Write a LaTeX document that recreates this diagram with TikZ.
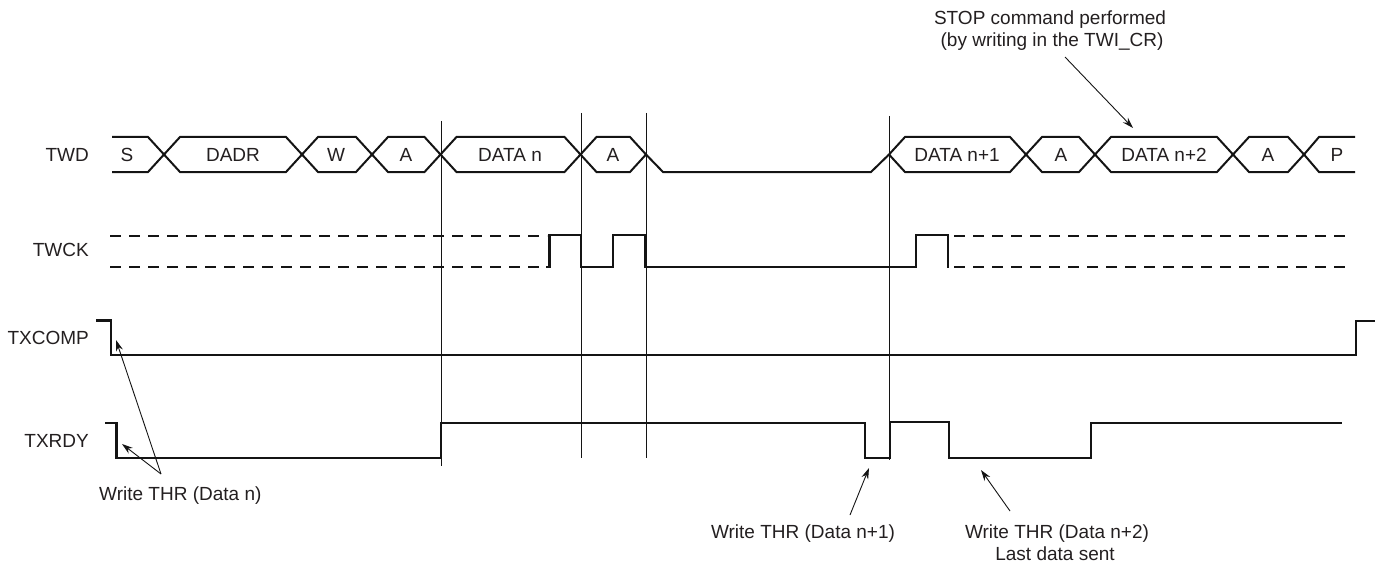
\documentclass[tikz,border=0pt]{standalone}
\usepackage{fontspec}
\setmainfont{Liberation Sans}
\usetikzlibrary{arrows.meta}
\definecolor{txt}{RGB}{35,31,32}
\definecolor{ln}{RGB}{20,20,20}
\begin{document}
\begin{tikzpicture}[x=1pt,y=-1pt,
  sig/.style={draw=ln, line width=2.1pt, line join=miter, line cap=rect},
  bus/.style={draw=ln, line width=2pt, line join=miter},
  clk/.style={draw=ln, line width=2.8pt, line join=miter},
  dsh/.style={draw=ln, line width=2.2pt, dash pattern=on 11pt off 8pt},
  vmarker/.style={draw=ln, line width=1pt},
  ptr/.style={draw=ln, line width=0.9pt, -{Stealth[length=11pt,width=7pt]}},
  lbl/.style={font=\fontsize{19}{22}\selectfont, inner sep=0pt, text=txt}]
\useasboundingbox (0,0) rectangle (1381,567);

% ---- signal names
\node[lbl, anchor=base east] (nTWD)    at (89,161.7) {TWD};
\node[lbl, anchor=base east] (nTWCK)   at (89,256.5) {TWCK};
\node[lbl, anchor=base east] (nTXCOMP) at (89,344) {TXCOMP};
\node[lbl, anchor=base east] (nTXRDY)  at (89,447) {TXRDY};

% ---- vertical markers
\draw[vmarker] (441,121) -- (441,466);
\draw[vmarker] (581,113) -- (581,458);
\draw[vmarker] (646,113) -- (646,458);
\draw[vmarker] (889.5,116) -- (889.5,460);

% ---- TWD bus
\draw[bus] (112,137) -- (148,137) -- (164,154.5) -- (148,172) -- (112,172);
\foreach \a/\b in {164/302, 302/372, 372/440.5, 440.5/580.5, 580.5/646,
                   889/1026, 1026/1095, 1095/1233, 1233/1304} {
  \draw[bus] (\a,154.5) -- ({\a+16},137) -- ({\b-16},137) -- (\b,154.5)
             -- ({\b-16},172) -- ({\a+16},172) -- cycle;
}
\draw[bus] (646,154.5) -- (663,172) -- (871,172) -- (889,154.5);
\draw[bus] (1355,137) -- (1319,137) -- (1304,154.5) -- (1319,172) -- (1355,172);

\node[lbl, anchor=base] (tS)   at (127,161.5)  {S};
\node[lbl, anchor=base] (tDA)  at (233,161.5)  {DADR};
\node[lbl, anchor=base] (tW)   at (336,161.5)  {W};
\node[lbl, anchor=base] (tA1)  at (406,161.5)  {A};
\node[lbl, anchor=base] (tDn)  at (510,161.5)  {DATA n};
\node[lbl, anchor=base] (tA2)  at (613,161.5)  {A};
\node[lbl, anchor=base] (tDn1) at (957,161.5)  {DATA n+1};
\node[lbl, anchor=base] (tA3)  at (1061,161.5) {A};
\node[lbl, anchor=base] (tDn2) at (1164,161.5) {DATA n+2};
\node[lbl, anchor=base] (tA4)  at (1268,161.5) {A};
\node[lbl, anchor=base] (tP)   at (1337,161.5) {P};

% ---- TWCK
\draw[dsh] (110,236) -- (547,236);
\draw[dsh] (110,267) -- (547,267);
\draw[dsh] (954,236) -- (1350,236);
\draw[dsh] (954,267) -- (1350,267);
\draw[clk] (546,267) -- (549.5,267) -- (549.5,235) -- (581,235) -- (581,267)
           -- (613,267) -- (613,235) -- (645,235) -- (645,267.5);
\draw[sig] (645,267) -- (916,267);
\draw[clk] (916,267.5) -- (916,235) -- (948,235) -- (948,267.5);

% ---- TXCOMP
\draw[sig] (97,320.5) -- (111,320.5) -- (111,355) -- (1356,355) -- (1356,321) -- (1374,321);

% ---- TXRDY
\draw[sig] (106,423.3) -- (116.5,423.3) -- (116.5,458) -- (441,458) -- (441,423.3)
           -- (865,423.3) -- (865,458) -- (890,458) -- (890,422.3) -- (949,422.3)
           -- (949,458) -- (1091,458) -- (1091,423.3) -- (1341,423.3);

% ---- annotations
\node[lbl, anchor=base west] (wn) at (99,500) {Write THR (Data n)};
\node[lbl, anchor=base] (wn1) at (803,538.5) {Write THR (Data n+1)};
\node[lbl, anchor=base] (wn2) at (1057,538.5) {Write THR (Data n+2)};
\node[lbl, anchor=base] (wn2b) at (1055,560) {Last data sent};
\node[lbl, anchor=base] (stop1) at (1050,25) {STOP command performed};
\node[lbl, anchor=base] (stop2) at (1052,47) {(by writing in the TWI\_CR)};

\coordinate (pA) at (161,474);
\coordinate (eCOMP) at (116,340);
\coordinate (eRDY) at (122,444);
\coordinate (pB) at (850,515);
\coordinate (eB) at (869,468);
\coordinate (pC) at (1010,511);
\coordinate (eC) at (981,470);
\coordinate (pD) at (1065,57);
\coordinate (eD) at (1133,128);

\draw[ptr] (pA) -- (eCOMP);
\draw[ptr] (pA) -- (eRDY);
\draw[ptr] (pB) -- (eB);
\draw[ptr] (pC) -- (eC);
\draw[ptr] (pD) -- (eD);
\end{tikzpicture}
\end{document}
